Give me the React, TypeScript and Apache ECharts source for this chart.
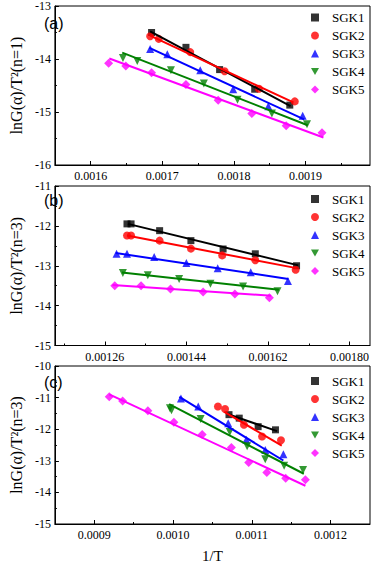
import React, { useEffect, useRef } from "react";
import * as echarts from "echarts";

// ---------- data ----------
const seriesNames = ["SGK1", "SGK2", "SGK3", "SGK4", "SGK5"];

// panel (a)  n=1
const aX1 = [0.001685, 0.001733, 0.00178, 0.001829, 0.001878];
const aY1 = [-13.5, -13.78, -14.2, -14.57, -14.87];
const aX2 = [0.001683, 0.001695, 0.001739, 0.001787, 0.001835, 0.001885];
const aY2 = [-13.57, -13.62, -13.87, -14.23, -14.56, -14.8];
const aX3 = [0.001683, 0.001707, 0.001753, 0.001799, 0.001848, 0.001896];
const aY3 = [-13.81, -13.91, -14.21, -14.57, -14.89, -15.07];
const aX4 = [0.001645, 0.001665, 0.001712, 0.001758, 0.001805, 0.001853, 0.001902];
const aY4 = [-13.98, -14.04, -14.21, -14.46, -14.77, -15.03, -15.23];
const aX5 = [0.001625, 0.001649, 0.001685, 0.001733, 0.001778, 0.001825, 0.001873, 0.001923];
const aY5 = [-14.08, -14.13, -14.26, -14.48, -14.78, -15.03, -15.26, -15.39];
const aFitX = [[0.001683, 0.001879], [0.001683, 0.001883], [0.001682, 0.001898], [0.001644, 0.001903], [0.001626, 0.001925]];
const aFitY = [[-13.48, -14.89], [-13.56, -14.82], [-13.79, -15.14], [-13.88, -15.25], [-13.99, -15.48]];
const aTicks = [0.0016, 0.0017, 0.0018, 0.0019];
const aMinor = [0.00155, 0.00165, 0.00175, 0.00185, 0.00195];

// panel (b)  n=3
const bX1 = [0.001309, 0.001318, 0.001381, 0.00145, 0.001521, 0.001592, 0.001683];
const bY1 = [-11.95, -11.95, -12.12, -12.37, -12.58, -12.7, -13.0];
const bX2 = [0.001309, 0.001318, 0.001381, 0.00145, 0.001519, 0.001592, 0.001681];
const bY2 = [-12.24, -12.24, -12.37, -12.57, -12.74, -12.86, -13.1];
const bX3 = [0.001286, 0.001309, 0.001369, 0.00144, 0.001509, 0.001582, 0.001664];
const bY3 = [-12.7, -12.7, -12.78, -12.93, -13.06, -13.16, -13.38];
const bX4 = [0.0013, 0.001355, 0.001424, 0.001493, 0.001565, 0.001641];
const bY4 = [-13.18, -13.24, -13.33, -13.45, -13.52, -13.64];
const bX5 = [0.001282, 0.00134, 0.001405, 0.001477, 0.001547, 0.001623];
const bY5 = [-13.5, -13.5, -13.58, -13.66, -13.71, -13.8];
const bFitX = [[0.001311, 0.001687], [0.001309, 0.001683], [0.001284, 0.001665], [0.001298, 0.001644], [0.001277, 0.001627]];
const bFitY = [[-11.95, -12.99], [-12.24, -13.06], [-12.68, -13.33], [-13.17, -13.6], [-13.48, -13.75]];
const bTicks = [0.00126, 0.00144, 0.00162, 0.0018];
const bMinor = [0.00117, 0.00135, 0.00153, 0.00171];

// panel (c)  n=3
const cX1 = [0.001071, 0.001084, 0.001108, 0.00113];
const cY1 = [-11.54, -11.65, -11.92, -12.02];
const cX2 = [0.001057, 0.001066, 0.00109, 0.001113, 0.001137];
const cY2 = [-11.28, -11.36, -11.86, -12.23, -12.35];
const cX3 = [0.00101, 0.001032, 0.00107, 0.001093, 0.001117, 0.00114];
const cY3 = [-11.03, -11.28, -11.81, -12.33, -12.66, -12.79];
const cX4 = [0.000996, 0.000998, 0.001035, 0.001072, 0.001094, 0.001117, 0.001141, 0.001165];
const cY4 = [-11.34, -11.4, -11.68, -12.09, -12.54, -12.95, -13.16, -13.29];
const cX5 = [0.000919, 0.000936, 0.000968, 0.001001, 0.001037, 0.001074, 0.001096, 0.001119, 0.001143, 0.001168];
const cY5 = [-10.97, -11.11, -11.42, -11.78, -12.17, -12.58, -13.05, -13.37, -13.55, -13.6];
const cFitX = [[0.001069, 0.001132], [0.001065, 0.001138], [0.001008, 0.00114], [0.000995, 0.001166], [0.000919, 0.001168]];
const cFitY = [[-11.52, -12.06], [-11.45, -12.52], [-10.98, -12.99], [-11.21, -13.41], [-10.9, -13.79]];
const cTicks = [0.0009, 0.001, 0.0011, 0.0012];
const cMinor = [0.00095, 0.00105, 0.00115];

const yTitles = ["lnG(α)/T²(n=1)", "lnG(α)/T²(n=3)", "lnG(α)/T²(n=3)"];
const panelLabels = ["(a)", "(b)", "(c)"];

// ---------- styles ----------
const colors = ["#000000", "#ff0000", "#0000ff", "#008000", "#ff00ff"];
const symbols = ["rect", "circle", "triangle", "path://M0,0L10,0L5,9Z", "diamond"];
const symbolSizes = [7, 8, 8, 8, 9];
const SERIF = "'Liberation Serif', 'Times New Roman', serif";

const panels = [
  {
    xs: [aX1, aX2, aX3, aX4, aX5], ys: [aY1, aY2, aY3, aY4, aY5], fitX: aFitX, fitY: aFitY,
    xMin: 0.00155, xMax: 0.00199, yMin: -16, yMax: -13, ticks: aTicks, minor: aMinor, dec: 4,
    top: 5.5, height: 159.5, legendTop: 10.5, labelY: 23,
  },
  {
    xs: [bX1, bX2, bX3, bX4, bX5], ys: [bY1, bY2, bY3, bY4, bY5], fitX: bFitX, fitY: bFitY,
    xMin: 0.00115, xMax: 0.001845, yMin: -15, yMax: -11, ticks: bTicks, minor: bMinor, dec: 5,
    top: 186, height: 159.5, legendTop: 192, labelY: 200,
  },
  {
    xs: [cX1, cX2, cX3, cX4, cX5], ys: [cY1, cY2, cY3, cY4, cY5], fitX: cFitX, fitY: cFitY,
    xMin: 0.00085, xMax: 0.00125, yMin: -15, yMax: -10, ticks: cTicks, minor: cMinor, dec: 4,
    top: 366, height: 161, legendTop: 374, labelY: 382,
  },
];

function buildOption() {
  const grid: any[] = [];
  const xAxis: any[] = [];
  const yAxis: any[] = [];
  const series: any[] = [];
  const legend: any[] = [];
  const graphic: any[] = [];

  panels.forEach((p, i) => {
    grid.push({
      left: 36, right: 3, top: p.top, height: p.height,
      show: true, borderColor: "#000", borderWidth: 1, backgroundColor: "transparent",
    });
    xAxis.push({
      type: "value", gridIndex: i, min: p.xMin, max: p.xMax, position: "bottom",
      axisLine: { show: true, onZero: false, lineStyle: { color: "#000", width: 1 } },
      axisTick: { show: true, inside: true, length: 4, customValues: p.ticks, lineStyle: { color: "#000" } },
      axisLabel: {
        show: true, customValues: p.ticks, formatter: (v: number) => v.toFixed(p.dec),
        fontFamily: SERIF, fontSize: 12, color: "#000", margin: 5,
      },
      splitLine: { show: false },
      ...(i === 2
        ? { name: "1/T", nameLocation: "middle", nameGap: 24, nameTextStyle: { fontFamily: SERIF, fontSize: 15, color: "#000" } }
        : {}),
    });
    yAxis.push({
      type: "value", gridIndex: i, min: p.yMin, max: p.yMax, interval: 1,
      axisLine: { show: true, onZero: false, lineStyle: { color: "#000", width: 1 } },
      axisTick: { show: true, inside: true, length: 4, lineStyle: { color: "#000" } },
      minorTick: { show: true, splitNumber: 2, length: 2, lineStyle: { color: "#000" } },
      axisLabel: { fontFamily: SERIF, fontSize: 12, color: "#000", margin: 4 },
      splitLine: { show: false },
      minorSplitLine: { show: false },
      name: yTitles[i], nameLocation: "middle", nameGap: 18, nameRotate: 90,
      nameTextStyle: { fontFamily: SERIF, fontSize: 16, color: "#000" },
    });
    legend.push({
      orient: "vertical", left: 311, top: p.legendTop, padding: 0,
      itemWidth: 8, itemHeight: 8, itemGap: 4,
      selectedMode: false,
      data: seriesNames.map((n, k) => ({ name: n, icon: symbols[k] })),
      textStyle: { fontFamily: SERIF, fontSize: 13, color: "#000", padding: [0, 0, 0, 8], lineHeight: 14 },
    });
    graphic.push({
      type: "text", x: 44, y: p.labelY, z: 10,
      style: {
        text: panelLabels[i], font: "16px 'Liberation Sans', Arial, sans-serif", fill: "#000",
        textAlign: "left", textVerticalAlign: "middle",
      },
    });
  });

  // minor tick axes
  panels.forEach((p, i) => {
    xAxis.push({
      type: "value", gridIndex: i, min: p.xMin, max: p.xMax, position: "bottom",
      axisLine: { show: false, onZero: false },
      axisTick: { show: true, inside: true, length: 2, customValues: p.minor, lineStyle: { color: "#000" } },
      axisLabel: { show: false },
      splitLine: { show: false },
    });
  });

  panels.forEach((p, i) => {
    seriesNames.forEach((n, k) => {
      series.push({
        name: n, type: "scatter", xAxisIndex: i, yAxisIndex: i,
        symbol: symbols[k], symbolSize: symbolSizes[k],
        itemStyle: { color: colors[k] },
        data: p.xs[k].map((x: number, j: number) => [x, p.ys[k][j]]),
        z: 3,
      });
      series.push({
        name: "fit-" + i + "-" + k, type: "line", xAxisIndex: i, yAxisIndex: i,
        showSymbol: false, symbol: "none",
        lineStyle: { color: colors[k], width: 2 },
        data: p.fitX[k].map((x: number, j: number) => [x, p.fitY[k][j]]),
        z: 4,
      });
    });
  });

  return { animation: false, backgroundColor: "#fff", grid, xAxis, yAxis, series, legend, graphic };
}

export default function App() {
  const ref = useRef<HTMLDivElement>(null);
  useEffect(() => {
    if (!ref.current) return;
    const chart = echarts.init(ref.current, undefined, { renderer: "svg" });
    chart.setOption(buildOption() as any);
    return () => chart.dispose();
  }, []);
  return (
    <div
      ref={ref}
      style={{ position: "absolute", left: 0, top: 0, width: 373, height: 564, background: "#fff" }}
    />
  );
}
